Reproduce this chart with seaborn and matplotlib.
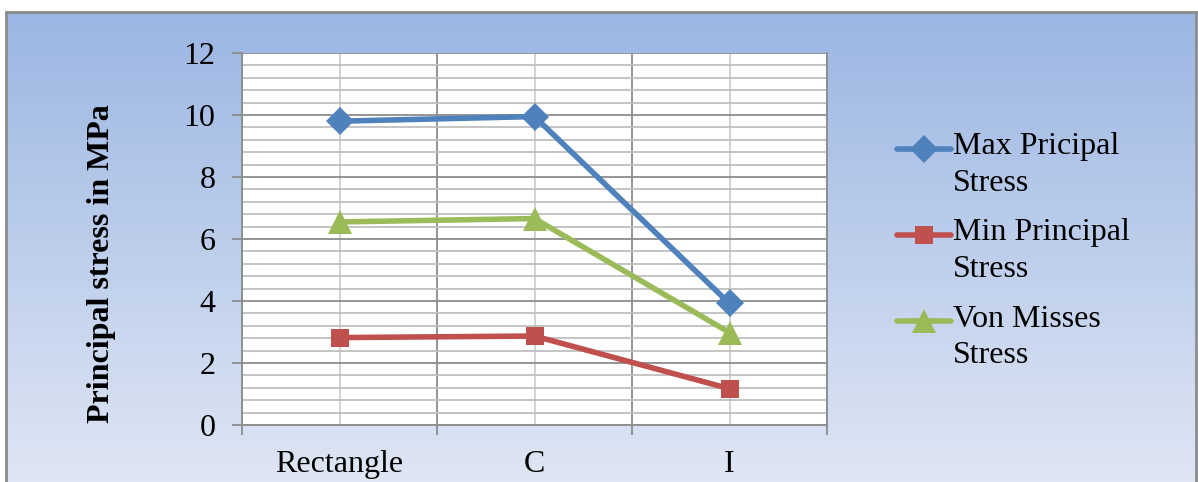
import numpy as np
import pandas as pd
import seaborn as sns
import matplotlib.pyplot as plt
import matplotlib.transforms as mtransforms
from matplotlib.colors import LinearSegmentedColormap
from matplotlib.lines import Line2D
from matplotlib.legend_handler import HandlerLine2D

shapes = ["Rectangle", "C", "I"]
max_principal = [9.8, 9.95, 3.92]
min_principal = [2.82, 2.87, 1.17]
von_misses = [6.55, 6.66, 2.98]
series_names = ["Max Pricipal\nStress", "Min Principal\nStress", "Von Misses\nStress"]

df = pd.DataFrame({
    "shape": shapes * 3,
    "stress": max_principal + min_principal + von_misses,
    "series": np.repeat(series_names, 3),
})


class TopLineHandler(HandlerLine2D):
    # put the legend key next to the first line of a two-line label
    def create_artists(self, legend, orig_handle, xdescent, ydescent, width,
                       height, fontsize, trans):
        arts = super().create_artists(legend, orig_handle, xdescent, ydescent,
                                      width, height, fontsize, trans)
        for a in arts:
            a.set_transform(mtransforms.Affine2D().translate(0, 11.5) + trans)
        return arts


sns.set_style("white")
plt.rcParams["font.family"] = ["Liberation Serif", "DejaVu Serif"]
plt.rcParams["text.color"] = "black"
plt.rcParams["axes.labelcolor"] = "black"
plt.rcParams["xtick.labelcolor"] = "black"
plt.rcParams["ytick.labelcolor"] = "black"

fig = plt.figure(figsize=(11.98, 4.82), dpi=100)
fig.patch.set_facecolor("white")

# gradient background panel
bg = fig.add_axes([6 / 1198, 0, 1190 / 1198, 470 / 482], zorder=0)
cmap = LinearSegmentedColormap.from_list("bg", ["#9BB6E3", "#DFE6F4"])
bg.imshow(np.linspace(0, 1, 256).reshape(-1, 1), aspect="auto", cmap=cmap,
          extent=[0, 1, 0, 1])
bg.set_xticks([])
bg.set_yticks([])
for s in ["left", "top", "right"]:
    bg.spines[s].set_color("#8C8C8C")
    bg.spines[s].set_linewidth(2)
bg.spines["bottom"].set_visible(False)

ax = fig.add_axes([242 / 1198, 57 / 482, 585 / 1198, 372 / 482], zorder=1)
ax.set_facecolor("white")

palette = {series_names[0]: "#4F81BD", series_names[1]: "#C0504D", series_names[2]: "#9BBB59"}
markers = {series_names[0]: "D", series_names[1]: "s", series_names[2]: "^"}
sns.lineplot(data=df, x="shape", y="stress", hue="series", style="series",
             palette=palette, markers=markers, dashes=False, linewidth=4,
             markersize=14, markeredgewidth=0, ax=ax, sort=False, zorder=5)
msize = {"D": 14.5, "s": 13.5, "^": 17}
for ln in ax.lines:
    m = ln.get_marker()
    if m in msize:
        ln.set_markersize(msize[m])

ax.set_xlim(-0.5, 2.5)
ax.set_ylim(0, 12)
ax.set_yticks(np.arange(0, 13, 2))
ax.set_yticks(np.arange(0, 12.01, 0.4), minor=True)
ax.set_xticks([0, 1, 2])
ax.set_xticklabels(shapes)
ax.set_xticks([-0.5, 0.5, 1.5, 2.5], minor=True)

ax.grid(which="major", axis="y", color="#8C8C8C", linewidth=1.3)
ax.grid(which="minor", axis="y", color="#BFBFBF", linewidth=1.3)
ax.grid(which="minor", axis="x", color="#8C8C8C", linewidth=1.3)
ax.grid(which="major", axis="x", color="#CFCFCF", linewidth=1.3)
ax.set_axisbelow(True)

ax.tick_params(axis="y", which="major", direction="out", length=7, width=1.3,
               color="#8C8C8C", left=True, labelsize=23, pad=12)
ax.tick_params(axis="y", which="minor", length=0)
ax.tick_params(axis="x", which="major", length=0, labelsize=23, pad=18)
ax.tick_params(axis="x", which="minor", direction="out", length=7, width=1.3,
               color="#8C8C8C", bottom=True)
for s in ["left", "bottom", "right", "top"]:
    ax.spines[s].set_color("#8C8C8C")
    ax.spines[s].set_linewidth(1.3)
ax.spines["top"].set_visible(False)

ax.set_xlabel("")
ax.set_ylabel("Principal stress in MPa", fontsize=23, fontweight="bold")
ax.yaxis.set_label_coords(-0.215, 0.435)

handles, labels = ax.get_legend_handles_labels()
for h in handles:
    m = h.get_marker()
    if m in msize:
        h.set_markersize(msize[m])
leg = ax.legend(handles, labels, loc="upper left",
                bbox_to_anchor=(884 / 1198, 1 - 119 / 482),
                bbox_transform=fig.transFigure, frameon=False, fontsize=23,
                handlelength=1.7, handletextpad=0.05, labelspacing=0.64,
                borderaxespad=0, handler_map={Line2D: TopLineHandler()})
for t in leg.get_texts():
    t.set_linespacing(1.36)

fig.savefig("out.png", dpi=100)
